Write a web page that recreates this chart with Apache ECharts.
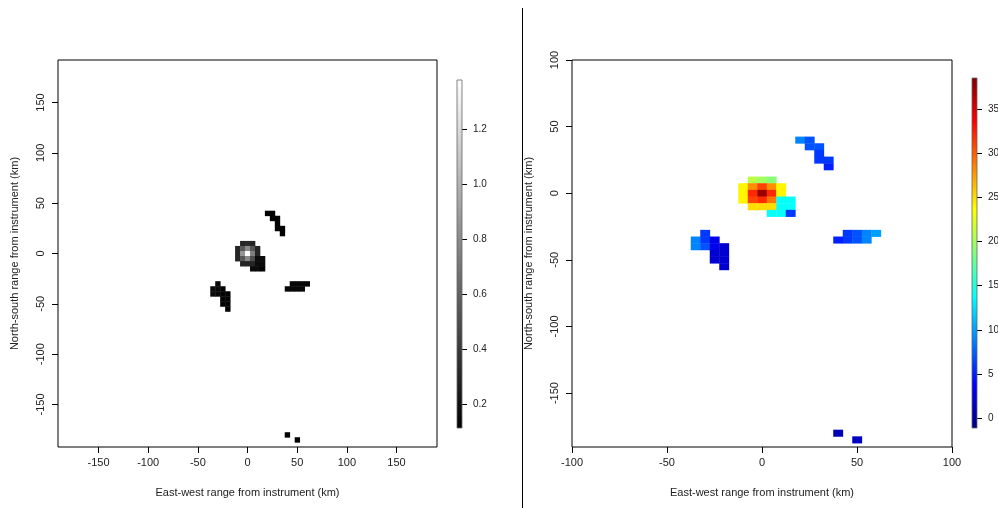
<!DOCTYPE html>
<html>
<head>
<meta charset="utf-8">
<script src="https://cdn.jsdelivr.net/npm/echarts@6/dist/echarts.min.js"></script>
<style>
  html, body { margin: 0; padding: 0; background: #fff; }
  #chart { width: 998px; height: 508px; }
</style>
</head>
<body>
<div id="chart"></div>
<script>
// ---------- data ----------
const cellSize = 5; // km grid spacing
// cell centres (km)
const cellX = [
  -5, 0, 5,
  -10, -5, 0, 5, 10,
  -10, -5, 0, 5, 10,
  -10, -5, 0, 5, 10, 15,
  -5, 0, 5, 10, 15,
  5, 10, 15,
  20, 25, 25, 30, 30, 30, 35, 35,
  45, 50, 55, 60, 40, 45, 50, 55,
  -30, -35, -30, -25, -35, -30, -25, -20, -25, -20, -25, -20, -20,
  40, 50
];
const cellY = [
  10, 10, 10,
  5, 5, 5, 5, 5,
  0, 0, 0, 0, 0,
  -5, -5, -5, -5, -5, -5,
  -10, -10, -10, -10, -10,
  -15, -15, -15,
  40, 40, 35, 35, 30, 25, 25, 20,
  -30, -30, -30, -30, -35, -35, -35, -35,
  -30, -35, -35, -35, -40, -40, -40, -40, -45, -45, -50, -50, -55,
  -180, -185
];
// left panel (grayscale) values
const grayValues = [
  0.30, 0.32, 0.30,
  0.30, 0.55, 0.80, 0.55, 0.30,
  0.30, 0.85, 1.38, 0.75, 0.30,
  0.30, 0.55, 0.80, 0.50, 0.17, 0.17,
  0.30, 0.30, 0.30, 0.17, 0.17,
  0.17, 0.17, 0.13,
  0.12, 0.12, 0.12, 0.12, 0.12, 0.12, 0.12, 0.12,
  0.15, 0.15, 0.16, 0.16, 0.15, 0.15, 0.15, 0.16,
  0.15, 0.17, 0.15, 0.13, 0.17, 0.15, 0.13, 0.13, 0.13, 0.13, 0.13, 0.13, 0.13,
  0.12, 0.12
];
// right panel (jet) values
const jetValues = [
  21, 20, 19,
  24, 28, 31, 28, 24,
  24, 32, 37.5, 32, 24,
  24, 31, 32, 29, 14, 14,
  25, 25, 25, 14, 14,
  14, 14, 6,
  9, 7, 7, 7, 6, 6, 6, 5,
  6, 7, 9, 10, 5, 6, 7, 9,
  6, 9, 6, 3, 9, 7, 3, 2, 2, 2, 2, 2, 2,
  1, 1.5
];
const grayRange = [0.115, 1.38];
const jetRange = [-1.1, 38.5];
const grayColors = ['#000000', '#ffffff'];
const jetColors = ['#000080', '#0000ff', '#0080ff', '#00ffff', '#80ff80', '#ffff00', '#ff8000', '#ff0000', '#800000'];
const leftXTicks = [-150, -100, -50, 0, 50, 100, 150];
const leftYTicks = [-150, -100, -50, 0, 50, 100, 150];
const rightXTicks = [-100, -50, 0, 50, 100];
const rightYTicks = [-150, -100, -50, 0, 50, 100];
const grayTicks = [0.2, 0.4, 0.6, 0.8, 1.0, 1.2];
const jetTicks = [0, 5, 10, 15, 20, 25, 30, 35];
const xTitle = 'East-west range from instrument (km)';
const yTitle = 'North-south range from instrument (km)';

// ---------- build ----------
const leftData = cellX.map((x, i) => [x, cellY[i], grayValues[i]]);
const rightData = cellX.map((x, i) => [x, cellY[i], jetValues[i]]);

const FONT = 'Liberation Sans, Arial, sans-serif';
const TXT = '#222';

function cellRender(params, api) {
  const x = api.value(0), y = api.value(1), h = cellSize / 2;
  const p1 = api.coord([x - h, y + h]);
  const p2 = api.coord([x + h, y - h]);
  return {
    type: 'rect',
    shape: { x: p1[0], y: p1[1], width: p2[0] - p1[0] + 0.4, height: p2[1] - p1[1] + 0.4 },
    style: { fill: api.visual('color') }
  };
}

function barRender(colors) {
  return function (params, api) {
    const p1 = api.coord([0, api.value(1)]);
    const p2 = api.coord([1, api.value(0)]);
    const stops = colors.map((c, i) => ({ offset: i / (colors.length - 1), color: c }));
    return {
      type: 'rect',
      shape: { x: p1[0], y: p1[1], width: p2[0] - p1[0], height: p2[1] - p1[1] },
      style: {
        fill: new echarts.graphic.LinearGradient(0, 1, 0, 0, stops),
        stroke: '#666', lineWidth: 0.8
      }
    };
  };
}

function mapXAxis(grid, min, max, ticks) {
  return {
    type: 'value', gridIndex: grid, min: min, max: max,
    name: xTitle, nameLocation: 'middle', nameGap: 40,
    nameTextStyle: { fontFamily: FONT, fontSize: 11, color: TXT },
    axisLine: { show: false, onZero: false },
    axisTick: { show: true, length: 6, inside: false, customValues: ticks, lineStyle: { color: '#000' } },
    axisLabel: { customValues: ticks, fontFamily: FONT, fontSize: 11, color: TXT, margin: 10 },
    splitLine: { show: false }
  };
}
function mapYAxis(grid, min, max, ticks, gap) {
  return {
    type: 'value', gridIndex: grid, min: min, max: max,
    name: yTitle, nameLocation: 'middle', nameGap: gap, nameRotate: 90,
    nameTextStyle: { fontFamily: FONT, fontSize: 11, color: TXT },
    axisLine: { show: false, onZero: false },
    axisTick: { show: true, length: 6, inside: false, customValues: ticks, lineStyle: { color: '#000' } },
    axisLabel: { customValues: ticks, rotate: 90, fontFamily: FONT, fontSize: 11, color: TXT, margin: 12 },
    splitLine: { show: false }
  };
}
function barXAxis(grid) {
  return { type: 'value', gridIndex: grid, min: 0, max: 1, show: false };
}
function barYAxis(grid, range, ticks, digits) {
  return {
    type: 'value', gridIndex: grid, min: range[0], max: range[1], position: 'right',
    axisLine: { show: false, onZero: false },
    axisTick: { show: true, length: 5, customValues: ticks, lineStyle: { color: '#000' } },
    axisLabel: {
      customValues: ticks, fontFamily: FONT, fontSize: 10, color: TXT, margin: 11,
      formatter: v => Number(v).toFixed(digits)
    },
    splitLine: { show: false }
  };
}

const gridBase = { containLabel: false, outerBoundsMode: 'none', show: true, borderColor: '#000', borderWidth: 1, backgroundColor: 'transparent' };

const option = {
  backgroundColor: '#fff',
  animation: false,
  grid: [
    Object.assign({ left: 58, top: 60, width: 379, height: 387 }, gridBase),
    Object.assign({ left: 572, top: 60, width: 380, height: 387 }, gridBase),
    { left: 457, top: 80, width: 5, height: 348, containLabel: false, outerBoundsMode: 'none' },
    { left: 972, top: 78, width: 5, height: 350, containLabel: false, outerBoundsMode: 'none' }
  ],
  xAxis: [
    mapXAxis(0, -190.8, 190.8, leftXTicks),
    mapXAxis(1, -100, 100, rightXTicks),
    barXAxis(2),
    barXAxis(3)
  ],
  yAxis: [
    mapYAxis(0, -192.2, 192.2, leftYTicks, 38),
    mapYAxis(1, -190.5, 100, rightYTicks, 38),
    barYAxis(2, grayRange, grayTicks, 1),
    barYAxis(3, jetRange, jetTicks, 0)
  ],
  visualMap: [
    { type: 'continuous', show: false, seriesIndex: 0, dimension: 2, min: grayRange[0], max: grayRange[1], inRange: { color: grayColors } },
    { type: 'continuous', show: false, seriesIndex: 1, dimension: 2, min: jetRange[0], max: jetRange[1], inRange: { color: jetColors } }
  ],
  series: [
    { type: 'custom', xAxisIndex: 0, yAxisIndex: 0, renderItem: cellRender, data: leftData, clip: true },
    { type: 'custom', xAxisIndex: 1, yAxisIndex: 1, renderItem: cellRender, data: rightData, clip: true },
    { type: 'custom', xAxisIndex: 2, yAxisIndex: 2, renderItem: barRender(grayColors), data: [grayRange], silent: true },
    { type: 'custom', xAxisIndex: 3, yAxisIndex: 3, renderItem: barRender(jetColors), data: [jetRange], silent: true }
  ],
  graphic: [
    { type: 'line', shape: { x1: 522.5, y1: 8, x2: 522.5, y2: 508 }, style: { stroke: '#000', lineWidth: 1 } }
  ]
};

const chart = echarts.init(document.getElementById('chart'), null, { renderer: 'canvas' });
chart.setOption(option);
</script>
</body>
</html>
